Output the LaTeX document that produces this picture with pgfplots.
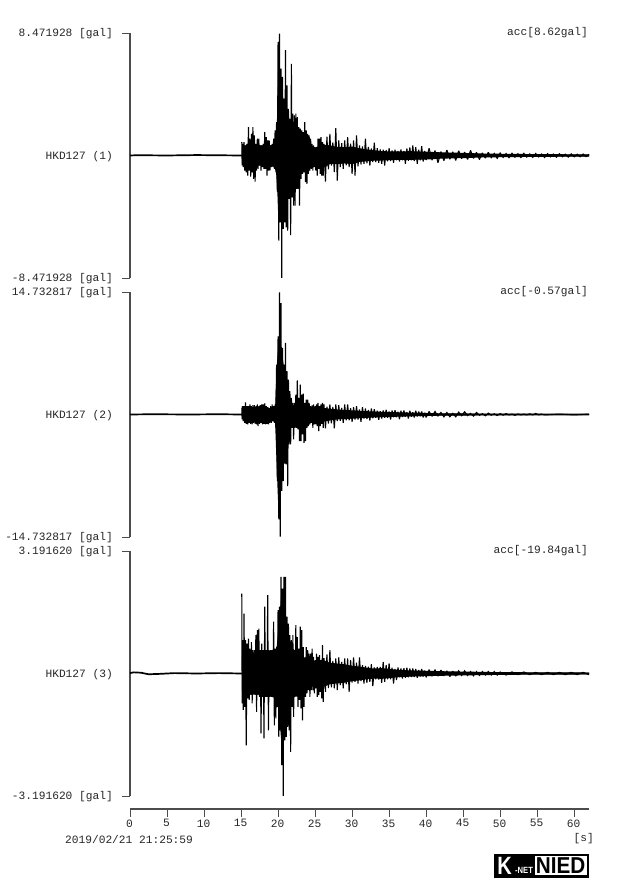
\documentclass[border=0pt]{standalone}
\usepackage{fontspec}
\setmainfont{Liberation Sans}
\setmonofont{Liberation Mono}
\usepackage{pgfplots}
\pgfplotsset{compat=1.18}

\definecolor{ink}{gray}{0.15}
\definecolor{axisline}{gray}{0.3}

\pgfplotsset{
  panel/.style={
    scale only axis, width=459pt, height=245pt,
    anchor=south west,
    xmin=0, xmax=62,
    axis x line=none, axis y line=left,
    axis line style={-, line width=1.1pt, color=axisline},
    xtick=\empty,
    tick align=outside, major tick length=8pt,
    tick style={line width=0.9pt, color=axisline},
    yticklabel style={font=\ttfamily\fontsize{11.2}{11}\selectfont, text=ink, inner xsep=0pt, xshift=-9pt, yshift=-1pt},
    tick label style={/pgf/number format/assume math mode=true},
    extra tick style={major tick length=8pt, tick style={draw=none}},
    clip=false,
  },
  trace/.style={black, line width=1.1pt, line join=miter, miter limit=2, no markers},
  base/.style={black, line width=1.7pt, no markers},
  core/.style={black, fill=black, draw=none, no markers},
}

\begin{document}
\begin{tikzpicture}[x=1pt,y=1pt]
\path[use as bounding box] (0,0) rectangle (624,893);

% panel 1
\begin{axis}[panel, at={(130pt,615pt)},
  ymin=-8.471928, ymax=8.471928,
  ytick={-8.471928,8.471928},
  yticklabels={-8.471928 [gal],8.471928 [gal]},
  extra y ticks={0}, extra y tick labels={HKD127 (1)},
]
\addplot[base] coordinates {(0,0)(1,0.02)(5,0)(9,0.03)(15,0)(62,0)};
\addplot[core] coordinates {
(15.1,0.50)(16,0.85)(17,0.70)(18,0.70)(19,0.70)(19.7,0.90)(19.9,3.0)(20,6.0)(20.4,5.0)(20.8,3.6)
(21.3,3.0)(21.8,2.0)(22.4,1.8)(23,1.3)(24,0.9)(25,0.55)(26,0.75)(27,0.70)(28,0.60)(29,0.58)(30,0.62)
(31,0.50)(32,0.42)(33,0.36)(34,0.30)(36,0.28)(38,0.30)(40,0.26)(42,0.22)(45,0.18)(48,0.13)(52,0.11)(56,0.09)(62,0.08)
(62,-0.08)(56,-0.09)(52,-0.11)(48,-0.13)(45,-0.18)(42,-0.22)(40,-0.28)(38,-0.30)(36,-0.30)(34,-0.35)(33,-0.35)
(32,-0.40)(31,-0.45)(30,-0.60)(29,-0.55)(28,-0.60)(27,-0.60)(26,-0.90)(25,-0.70)(24,-0.80)(23,-1.1)(22.4,-1.6)
(21.8,-2.0)(21.3,-2.8)(20.8,-3.9)(20,-3.9)(19.9,-2.5)(19.7,-0.90)(19,-0.70)(18,-0.70)(17,-0.70)(16,-0.80)(15.1,-0.50)
};
\addplot[trace] coordinates {
(15.1,0.92)(15.15,-0.69)(15.2,0.81)(15.3,-0.81)(15.4,0.92)(15.5,-1.04)(15.6,0.69)(15.7,-1.16)
(15.8,0.81)(15.9,-1.39)(16.0,1.96)(16.1,-1.04)(16.2,1.16)(16.3,-1.46)(16.4,1.50)(16.5,-1.16)
(16.6,1.96)(16.7,-1.62)(16.8,1.39)(16.9,-1.80)(17.0,0.81)(17.1,-1.04)(17.2,1.16)(17.3,-0.92)
(17.4,1.16)(17.5,-0.69)(17.6,0.69)(17.7,-1.04)(17.8,0.69)(17.9,-0.81)(18.0,0.81)(18.1,-0.92)
(18.2,1.62)(18.3,-0.92)(18.4,1.27)(18.5,-1.39)(18.6,1.04)(18.7,-1.04)(18.8,1.04)(18.9,-1.04)
(19.0,0.69)(19.1,-0.81)(19.2,0.81)(19.3,-0.69)(19.4,1.16)(19.5,-0.92)(19.6,1.73)(19.7,-1.16)
(19.8,2.31)(19.9,-2.54)(20.0,7.85)(20.1,-5.89)(20.2,8.43)(20.3,-4.62)(20.4,6.00)(20.5,-8.47)
(20.6,5.43)(20.7,-5.08)(20.8,3.93)(20.9,-4.62)(21.0,7.28)(21.1,-4.97)(21.2,4.85)(21.3,-5.20)
(21.4,3.23)(21.5,-3.00)(21.6,2.54)(21.7,-5.50)(21.8,6.33)(21.9,-2.89)(22.0,2.89)(22.1,-3.47)
(22.2,2.77)(22.3,-3.47)(22.4,2.89)(22.5,-2.31)(22.6,2.66)(22.7,-2.31)(22.8,1.96)(22.9,-3.47)
(23.0,1.85)(23.1,-1.62)(23.2,1.73)(23.3,-1.27)(23.4,1.62)(23.5,-1.16)(23.6,2.31)(23.7,-1.85)
(23.8,1.73)(23.9,-1.96)(24.0,1.50)(24.1,-1.27)(24.2,1.39)(24.3,-1.04)(24.4,1.16)(24.5,-0.92)
(24.6,0.81)(24.7,-1.04)(24.8,0.69)(24.9,-0.81)(25.0,0.58)(25.1,-1.04)(25.2,0.46)(25.3,-1.39)
(25.4,1.16)(25.5,-0.92)(25.6,1.16)(25.7,-1.27)(25.8,1.27)(25.9,-1.39)(26.0,0.92)(26.1,-1.39)
(26.2,0.80)(26.4,-1.80)(26.6,1.30)(26.8,-0.95)(27.0,1.50)(27.2,-0.70)(27.4,0.90)(27.6,-1.15)
(27.8,1.89)(28.0,-1.73)(28.2,1.04)(28.4,-0.81)(28.6,0.85)(28.8,-0.92)(29.0,1.04)(29.2,-0.69)
(29.4,1.27)(29.6,-0.81)(29.8,0.81)(30.0,-1.27)(30.2,1.04)(30.4,-1.39)(30.6,1.39)(30.8,-0.75)
(31.0,0.70)(31.2,-0.62)(31.4,0.62)(31.6,-0.58)(31.8,1.16)(32.0,-0.55)(32.2,0.60)(32.4,-0.69)
(32.6,0.48)(32.8,-0.46)(33.0,0.88)(33.2,-0.45)(33.4,0.50)(33.6,-0.50)(33.8,0.42)(34.0,-0.58)
(34.2,0.40)(34.4,-0.69)(34.6,0.38)(34.8,-0.40)(35.0,0.50)(35.2,-0.38)(35.4,0.35)(35.6,-0.50)
(35.8,0.40)(36.0,-0.34)(36.2,0.31)(36.4,-0.42)(36.6,0.42)(36.8,-0.33)(37.0,0.32)(37.2,-0.58)
(37.4,0.48)(37.6,-0.36)(37.8,0.55)(38.0,-0.33)(38.2,0.69)(38.4,-0.38)(38.6,0.58)(38.8,-0.58)
(39.0,0.40)(39.2,-0.34)(39.4,0.65)(39.6,-0.42)(39.8,0.32)(40.0,-0.32)
(40.4,0.50)(40.8,-0.32)(41.2,0.34)(41.6,-0.50)(42.0,0.27)(42.4,-0.36)(42.8,0.38)(43.2,-0.26)
(43.6,0.25)(44.0,-0.34)(44.4,0.33)(44.8,-0.22)(45.2,0.23)(45.6,-0.28)(46.0,0.35)(46.4,-0.20)
(46.8,0.22)(47.2,-0.28)(47.6,0.18)(48.0,-0.18)(48.4,0.22)(48.8,-0.15)(49.2,0.14)(49.6,-0.20)
(50.0,0.17)(50.4,-0.13)(50.8,0.13)(51.2,-0.15)(51.6,0.15)(52.0,-0.12)(52.4,0.12)(52.8,-0.14)
(53.2,0.15)(53.6,-0.11)(54.0,0.11)(54.4,-0.13)(54.8,0.14)(55.2,-0.10)(55.6,0.10)(56.0,-0.14)
(56.4,0.12)(56.8,-0.10)(57.2,0.10)(57.6,-0.12)(58.0,0.12)(58.4,-0.09)(58.8,0.09)(59.2,-0.11)
(59.6,0.11)(60.0,-0.09)(60.4,0.09)(60.8,-0.09)(61.2,0.10)(61.6,-0.08)(62.0,0.08)
};
\end{axis}

% panel 2
\begin{axis}[panel, at={(130pt,356pt)},
  ymin=-14.732817, ymax=14.732817,
  ytick={-14.732817,14.732817},
  yticklabels={-14.732817 [gal],14.732817 [gal]},
  extra y ticks={0}, extra y tick labels={HKD127 (2)},
]
\addplot[base] coordinates {(0,0)(3,0.03)(8,0)(12,0.03)(15,0)(62,0)};
\addplot[core] coordinates {
(15.1,0.50)(16,0.70)(18,0.70)(19,0.70)(19.6,0.80)(19.8,5.5)(20,8.0)(20.2,9.3)(20.6,7.0)(21,4.5)(21.4,2.5)(21.8,1.2)
(22.5,1.0)(23.5,1.0)(24.5,0.70)(26,0.80)(28,0.60)(30,0.50)(32,0.40)(34,0.32)(36,0.27)(38,0.22)(40,0.18)(42,0.14)(45,0.13)(48,0.07)(62,0.05)
(62,-0.05)(48,-0.07)(45,-0.13)(42,-0.14)(40,-0.18)(38,-0.22)(36,-0.27)(34,-0.32)(32,-0.40)(30,-0.50)(28,-0.60)(26,-0.85)
(24.5,-0.75)(23.5,-1.0)(22.5,-1.1)(21.8,-1.1)(21.4,-2.5)(21,-4.5)(20.6,-7.0)(20.2,-9.1)(20,-10.5)(19.8,-6.0)(19.6,-0.90)(19,-0.70)(18,-0.70)(16,-0.70)(15.1,-0.50)
};
\addplot[trace] coordinates {
(15.1,0.80)(15.15,-0.60)(15.2,1.00)(15.3,-0.80)(15.4,1.00)(15.5,-1.00)(15.6,1.44)(15.7,-1.12)
(15.8,1.00)(15.9,-1.20)(16.0,1.00)(16.1,-1.00)(16.2,1.20)(16.3,-1.12)(16.4,1.00)(16.5,-1.20)
(16.6,1.12)(16.7,-1.00)(16.8,1.12)(16.9,-1.12)(17.0,1.00)(17.1,-1.20)(17.2,1.20)(17.3,-1.40)
(17.4,1.00)(17.5,-1.12)(17.6,1.12)(17.7,-1.00)(17.8,1.20)(17.9,-1.20)(18.0,1.20)(18.1,-1.12)
(18.2,1.32)(18.3,-1.20)(18.4,1.00)(18.5,-1.12)(18.6,0.88)(18.7,-1.20)(18.8,0.80)(18.9,-1.00)
(19.0,1.00)(19.1,-1.00)(19.2,1.20)(19.3,-0.80)(19.4,1.00)(19.5,-1.00)(19.6,1.20)(19.7,-1.60)
(19.8,6.00)(19.9,-8.00)(20.0,9.40)(20.1,-12.60)(20.2,14.70)(20.3,-14.70)(20.4,13.40)(20.5,-9.20)
(20.6,8.00)(20.7,-8.00)(20.8,6.00)(20.9,-5.90)(21.0,8.60)(21.1,-6.00)(21.2,5.20)(21.3,-8.60)
(21.4,4.20)(21.5,-3.60)(21.6,2.80)(21.7,-3.60)(21.8,2.00)(21.9,-1.60)(22.0,1.40)(22.1,-3.00)
(22.2,1.40)(22.3,-1.60)(22.4,2.40)(22.5,-1.60)(22.6,4.10)(22.7,-1.80)(22.8,2.00)(22.9,-3.20)
(23.0,3.60)(23.1,-3.20)(23.2,2.40)(23.3,-2.40)(23.4,2.50)(23.5,-3.40)(23.6,1.40)(23.7,-3.20)
(23.8,1.80)(23.9,-1.60)(24.0,1.80)(24.1,-1.40)(24.2,1.40)(24.3,-1.20)(24.4,1.00)(24.5,-1.00)
(24.6,1.12)(24.7,-1.60)(24.8,1.20)(24.9,-1.20)(25.0,1.00)(25.1,-1.20)(25.2,1.20)(25.3,-1.40)
(25.4,1.40)(25.5,-2.00)(25.6,1.00)(25.7,-1.40)(25.8,1.20)(25.9,-1.12)(26.0,1.40)(26.1,-1.60)
(26.2,1.20)(26.4,-1.68)(26.6,0.95)(26.8,-1.10)(27.0,1.20)(27.2,-1.05)(27.4,0.90)(27.6,-1.68)
(27.8,1.20)(28.0,-0.80)(28.2,1.12)(28.4,-0.75)(28.6,0.80)(28.8,-1.00)(29.0,1.20)(29.2,-0.70)
(29.4,1.20)(29.6,-0.70)(29.8,0.75)(30.0,-0.88)(30.2,0.88)(30.4,-0.62)(30.6,1.00)(30.8,-0.60)
(31.0,0.60)(31.2,-0.88)(31.4,0.88)(31.6,-0.50)(31.8,0.72)(32.0,-0.55)(32.2,0.55)(32.4,-0.72)
(32.6,0.72)(32.8,-0.45)(33.0,0.64)(33.2,-0.40)(33.4,0.45)(33.6,-0.64)(33.8,0.40)(34.0,-0.48)
(34.2,0.48)(34.4,-0.40)(34.6,0.56)(34.8,-0.38)(35.0,0.36)(35.2,-0.60)(35.4,0.48)(35.6,-0.34)
(35.8,0.52)(36.0,-0.32)(36.2,0.32)(36.4,-0.56)(36.6,0.44)(36.8,-0.30)(37.0,0.48)(37.2,-0.28)
(37.4,0.28)(37.6,-0.48)(37.8,0.44)(38.0,-0.26)(38.2,0.26)(38.4,-0.36)(38.6,0.44)(38.8,-0.24)
(39.0,0.36)(39.2,-0.22)(39.4,0.36)(39.6,-0.36)(39.8,0.22)(40.0,-0.36)
(40.4,0.36)(40.8,-0.19)(41.2,0.36)(41.6,-0.18)(42.0,0.24)(42.4,-0.28)(42.8,0.24)(43.2,-0.28)
(43.6,0.14)(44.0,-0.28)(44.4,0.28)(44.8,-0.14)(45.2,0.32)(45.6,-0.14)(46.0,0.13)(46.4,-0.20)
(46.8,0.24)(47.2,-0.10)(47.6,0.10)(48.0,-0.16)(48.4,0.16)(48.8,-0.08)(49.2,0.08)(49.6,-0.12)
(50.0,0.10)(50.4,-0.08)(50.8,0.10)(51.2,-0.05)(51.6,0.05)(52.0,-0.10)(52.4,0.06)(52.8,-0.05)
(53.2,0.05)(53.6,-0.05)(54.0,0.08)(54.4,-0.05)(54.8,0.12)(55.2,-0.05)(55.6,0.05)(56.0,-0.05)
(58.0,0.05)(60.0,-0.05)(62.0,0.05)
};
\end{axis}

% panel 3
\begin{axis}[panel, at={(130pt,97pt)},
  ymin=-3.19162, ymax=3.19162,
  ytick={-3.19162,3.19162},
  yticklabels={-3.191620 [gal],3.191620 [gal]},
  extra y ticks={0}, extra y tick labels={HKD127 (3)},
]
\addplot[base] coordinates {(0,0.01)(0.5,0.03)(1.5,0.02)(2.5,-0.02)(4,-0.01)(6,0.01)(9,0)(12,0.01)(15,0)(62,0)};
\addplot[core] coordinates {
(15.1,0.40)(15.3,0.65)(16,0.55)(17,0.55)(18,0.55)(19,0.60)(19.8,0.65)(20,1.10)(20.2,1.40)(20.4,2.00)(20.6,2.20)(20.9,1.70)(21.2,1.15)(21.6,0.80)
(22,0.65)(22.6,0.55)(23.4,0.42)(24,0.35)(25,0.32)(26,0.36)(27,0.28)(28,0.26)(29,0.24)(30,0.20)(31,0.18)(32,0.15)(33,0.13)(34,0.14)(36,0.10)(38,0.08)(40,0.07)(42,0.06)(45,0.05)(50,0.035)(62,0.025)
(62,-0.025)(50,-0.035)(45,-0.05)(42,-0.06)(40,-0.07)(38,-0.08)(36,-0.10)(34,-0.14)(33,-0.13)(32,-0.15)(31,-0.18)(30,-0.20)(29,-0.24)(28,-0.26)(27,-0.28)(26,-0.36)(25,-0.32)(24,-0.35)(23.4,-0.42)(22.6,-0.55)
(22,-0.65)(21.6,-0.90)(21.2,-1.20)(20.9,-1.40)(20.6,-1.95)(20.4,-1.70)(20.2,-1.20)(20,-0.90)(19.8,-0.65)(19,-0.60)(18,-0.55)(17,-0.55)(16,-0.55)(15.3,-0.65)(15.1,-0.40)
};
\addplot[trace] coordinates {
(15.1,2.08)(15.15,-0.78)(15.2,0.87)(15.3,-0.95)(15.4,1.56)(15.5,-0.87)(15.6,0.87)(15.7,-1.87)
(15.8,0.78)(15.9,-0.65)(16.0,0.91)(16.1,-0.69)(16.2,0.65)(16.3,-0.55)(16.4,0.82)(16.5,-0.78)
(16.6,0.61)(16.7,-0.52)(16.8,0.61)(16.9,-0.55)(17.0,1.00)(17.1,-1.00)(17.2,1.13)(17.3,-0.55)
(17.4,1.17)(17.5,-0.61)(17.6,0.61)(17.7,-1.56)(17.8,0.78)(17.9,-0.61)(18.0,0.61)(18.1,-1.69)
(18.2,1.74)(18.3,-0.61)(18.4,0.61)(18.5,-0.61)(18.6,2.04)(18.7,-1.48)(18.8,0.61)(18.9,-0.61)
(19.0,0.61)(19.1,-0.61)(19.2,0.61)(19.3,-0.61)(19.4,1.35)(19.5,-1.35)(19.6,0.65)(19.7,-1.17)
(19.8,0.70)(19.9,-0.87)(20.0,1.65)(20.1,-1.65)(20.2,1.74)(20.3,-1.48)(20.4,2.52)(20.5,-2.39)
(20.6,2.21)(20.7,-3.19)(20.8,2.52)(20.9,-1.74)(21.0,2.52)(21.1,-1.65)(21.2,1.48)(21.3,-1.39)
(21.4,1.30)(21.5,-1.48)(21.6,1.00)(21.7,-2.04)(21.8,0.87)(21.9,-0.87)(22.0,1.00)(22.1,-1.13)
(22.2,0.61)(22.3,-0.61)(22.4,1.26)(22.5,-0.60)(22.6,0.95)(22.7,-0.87)(22.8,0.65)(22.9,-0.69)
(23.0,1.22)(23.1,-0.91)(23.2,1.13)(23.3,-1.22)(23.4,0.69)(23.5,-0.87)(23.6,0.42)(23.7,-0.61)
(23.8,0.69)(23.9,-0.52)(24.0,0.61)(24.1,-0.43)(24.2,0.52)(24.3,-0.61)(24.4,0.52)(24.5,-0.43)
(24.6,0.65)(24.7,-0.43)(24.8,0.43)(24.9,-0.52)(25.0,0.35)(25.1,-0.39)(25.2,0.52)(25.3,-0.61)
(25.4,0.43)(25.5,-0.56)(25.6,0.48)(25.7,-0.48)(25.8,0.35)(25.9,-0.65)(26.0,0.74)(26.1,-0.74)
(26.2,0.40)(26.4,-0.48)(26.6,0.50)(26.8,-0.38)(27.0,0.61)(27.2,-0.36)(27.4,0.33)(27.6,-0.39)
(27.8,0.39)(28.0,-0.43)(28.2,0.42)(28.4,-0.30)(28.6,0.30)(28.8,-0.39)(29.0,0.39)(29.2,-0.28)
(29.4,0.39)(29.6,-0.48)(29.8,0.35)(30.0,-0.24)(30.2,0.42)(30.4,-0.22)(30.6,0.28)(30.8,-0.26)
(31.0,0.42)(31.2,-0.20)(31.4,0.22)(31.6,-0.26)(31.8,0.20)(32.0,-0.24)(32.2,0.18)(32.4,-0.22)
(32.6,0.24)(32.8,-0.33)(33.0,0.16)(33.2,-0.15)(33.4,0.17)(33.6,-0.16)(33.8,0.17)(34.0,-0.24)
(34.2,0.30)(34.4,-0.22)(34.6,0.22)(34.8,-0.15)(35.0,0.26)(35.2,-0.15)(35.4,0.15)(35.6,-0.26)
(35.8,0.12)(36.0,-0.17)(36.2,0.16)(36.4,-0.10)(36.6,0.13)(36.8,-0.13)(37.0,0.14)(37.2,-0.11)
(37.4,0.15)(37.6,-0.10)(37.8,0.13)(38.0,-0.09)(38.2,0.13)(38.4,-0.09)(38.6,0.12)(38.8,-0.11)
(39.0,0.09)(39.2,-0.08)(39.4,0.12)(39.6,-0.08)(39.8,0.08)(40.0,-0.10)
(40.4,0.10)(40.8,-0.07)(41.2,0.10)(41.6,-0.07)(42.0,0.09)(42.4,-0.06)(42.8,0.07)(43.2,-0.08)
(43.6,0.06)(44.0,-0.07)(44.4,0.07)(44.8,-0.05)(45.2,0.07)(45.6,-0.05)(46.0,0.05)(46.4,-0.06)
(46.8,0.05)(47.2,-0.05)(47.6,0.05)(48.0,-0.04)(48.4,0.05)(48.8,-0.04)(49.2,0.05)(49.6,-0.04)
(50.0,0.04)(50.8,-0.04)(51.6,0.04)(52.4,-0.03)(53.2,0.04)(54.0,-0.03)(54.8,0.03)(55.6,-0.03)
(56.4,0.03)(57.2,-0.03)(58.0,0.03)(58.8,-0.03)(59.6,0.03)(60.4,-0.03)(61.2,0.03)(62.0,-0.03)
};
\end{axis}

% time axis
\begin{axis}[at={(130pt,84pt)}, anchor=south west,
  scale only axis, width=459pt, height=1pt,
  xmin=0, xmax=62, ymin=0, ymax=1,
  axis y line=none, axis x line=bottom,
  axis line style={-, line width=1.1pt, color=axisline},
  xtick={0,5,...,60},
  tick align=outside, major tick length=8pt,
  tick style={line width=0.9pt, color=axisline},
  xticklabel style={font=\ttfamily\fontsize{11.2}{11}\selectfont, text=ink, xshift=-0.5pt, yshift=1pt,
    /pgf/number format/assume math mode=true},
]
\end{axis}

\begin{scope}[every node/.style={font=\ttfamily\fontsize{11.2}{11}\selectfont, text=ink, inner sep=0pt}]
\node[anchor=east] at (588,860) {acc[8.62gal]};
\node[anchor=east] at (588,601) {acc[-0.57gal]};
\node[anchor=east] at (588,342) {acc[-19.84gal]};
\node[anchor=west] at (65,54) {2019/02/21 21:25:59};
\node[anchor=east] at (594,54) {[s]};
\end{scope}

% logo
\fill[black] (494,15) rectangle (589,39);
\fill[white] (535,17.5) rectangle (586.5,36.5);
\node[inner sep=0pt, text=white, font=\bfseries\fontsize{25}{25}\selectfont] at (504.5,27) {\scalebox{0.8}[1]{K}};
\node[inner sep=0pt, text=white, font=\bfseries\fontsize{9}{9}\selectfont] at (524,22.5) {\scalebox{0.85}[1]{-NET}};
\node[inner sep=0pt, text=black, font=\bfseries\fontsize{23}{23}\selectfont] at (560.7,27) {\scalebox{0.9}[1]{NIED}};
\end{tikzpicture}
\end{document}
